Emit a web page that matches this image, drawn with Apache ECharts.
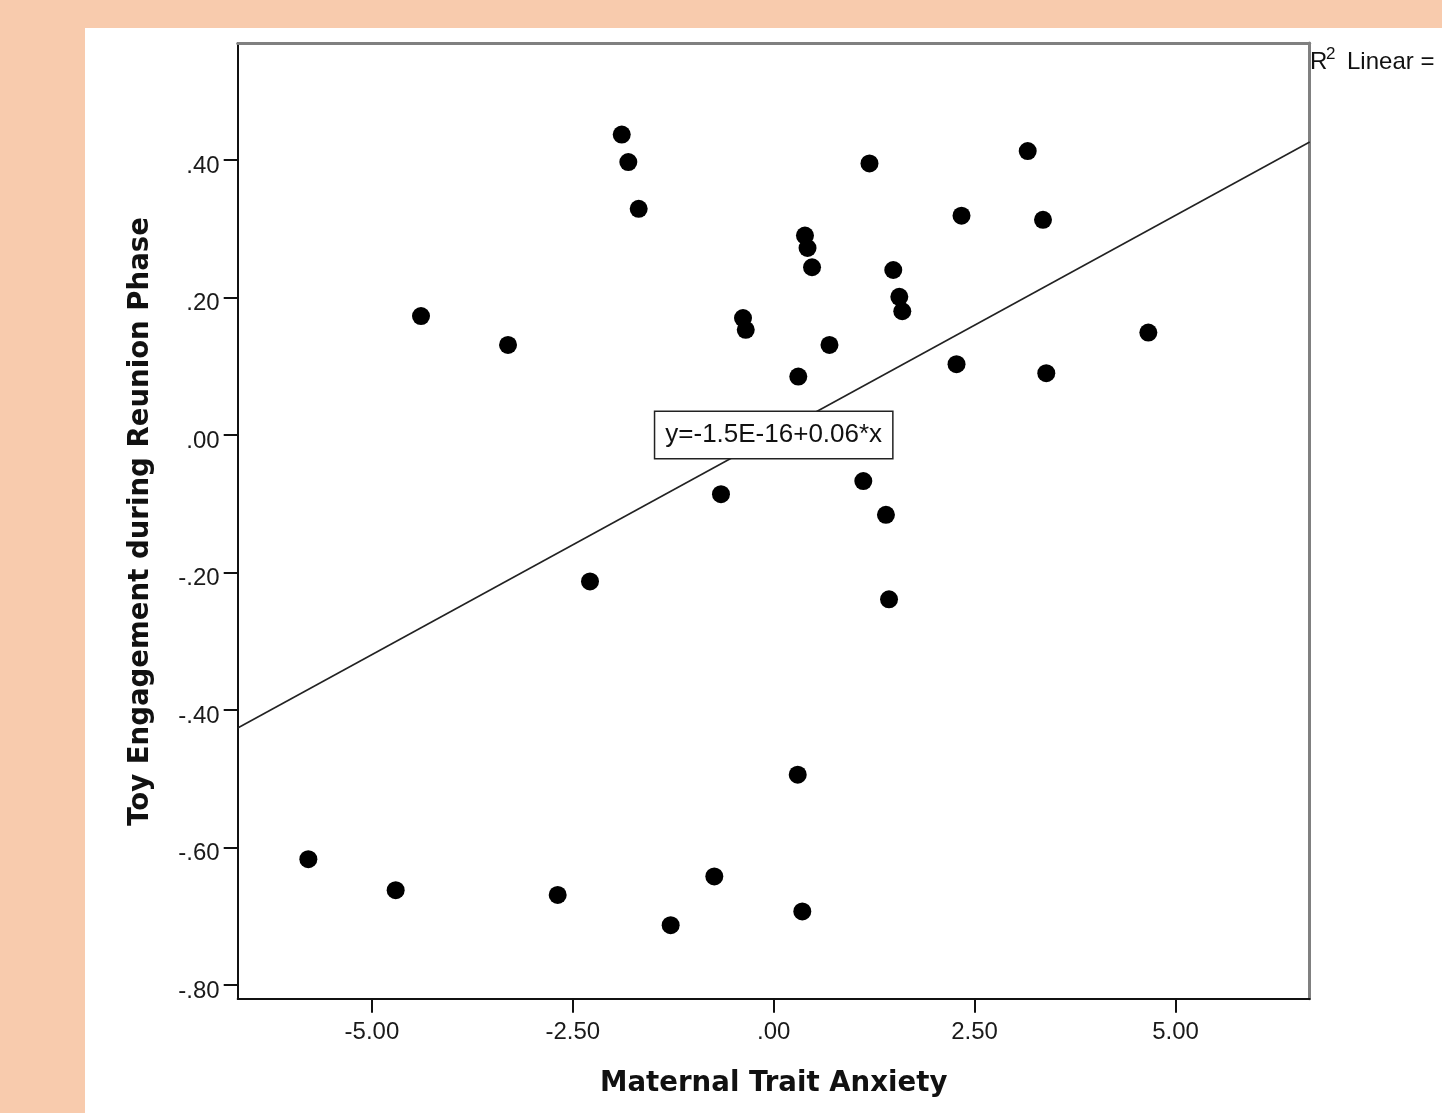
<!DOCTYPE html>
<html>
<head>
<meta charset="utf-8">
<script src="https://cdn.jsdelivr.net/npm/echarts@6/dist/echarts.min.js"></script>
<style>
  html, body { margin: 0; padding: 0; background: #F8CBAD; }
  #panel { position: absolute; left: 85px; top: 28px; width: 1357px; height: 1085px; background: #ffffff; }
  #chart { position: absolute; left: 0; top: 0; width: 1442px; height: 1113px; }
</style>
</head>
<body>
<div id="panel"></div>
<div id="chart"></div>
<script>
// ---- data ----
const anxiety = [-1.891, -1.809, -1.680, -4.389, -3.306, 1.192, 3.161, 2.337, 3.351, 0.389,
                 0.421, 0.477, 1.488, 1.563, 1.600, -0.382, -0.348, 0.694, 0.306, 2.275,
                 3.392, 4.662, -0.656, 1.115, 1.397, 1.435, -2.286, 0.299, -5.791, -4.704,
                 -2.688, -0.739, 0.356, -1.282];
const engagement = [0.437, 0.397, 0.329, 0.173, 0.131, 0.395, 0.413, 0.319, 0.313, 0.290,
                    0.272, 0.244, 0.240, 0.201, 0.180, 0.170, 0.153, 0.131, 0.085, 0.103,
                    0.090, 0.149, -0.086, -0.067, -0.116, -0.239, -0.213, -0.494, -0.617, -0.662,
                    -0.669, -0.642, -0.693, -0.713];
const xTickValues = [-5, -2.5, 0, 2.5, 5];
const yTickValues = [-0.8, -0.6, -0.4, -0.2, 0, 0.2, 0.4];
const xRange = [-6.67, 6.67];
const yRange = [-0.82, 0.57];
const fitIntercept = -1.5e-16;
const fitSlope = 0.0639;
const equationText = 'y=-1.5E-16+0.06*x';
const xTitle = 'Maternal Trait Anxiety';
const yTitle = 'Toy Engagement during Reunion Phase';

// ---- build ----
function fmt(v) {
  let s = Math.abs(v).toFixed(2);
  if (s.charAt(0) === '0') s = s.slice(1);
  return (v < 0 ? '-' : '') + s;
}
const points = anxiety.map((x, i) => [x, engagement[i]]);
const fitLine = xRange.map(x => [x, fitIntercept + fitSlope * x]);

const tickFont = 'Liberation Sans, Arial, sans-serif';
const titleFont = 'DejaVu Sans, Verdana, sans-serif';

const chart = echarts.init(document.getElementById('chart'), null, { renderer: 'canvas' });
chart.setOption({
  backgroundColor: 'transparent',
  animation: false,
  grid: { left: 237.7, top: 43.1, width: 1072, height: 955.7, show: false },
  xAxis: [{
    type: 'value', min: xRange[0], max: xRange[1],
    axisLine: { show: true, onZero: false, lineStyle: { color: '#111', width: 2 } },
    axisTick: { show: true, length: 14, customValues: xTickValues, lineStyle: { color: '#111', width: 2 } },
    axisLabel: { show: true, customValues: xTickValues, formatter: fmt, margin: 22,
                 fontSize: 24, fontFamily: tickFont, color: '#1a1a1a' },
    splitLine: { show: false }
  }, {
    type: 'value', position: 'top', min: xRange[0], max: xRange[1],
    axisLine: { show: true, onZero: false, lineStyle: { color: '#808080', width: 3 } },
    axisTick: { show: false }, axisLabel: { show: false }, splitLine: { show: false }
  }],
  yAxis: [{
    type: 'value', min: yRange[0], max: yRange[1],
    axisLine: { show: true, onZero: false, lineStyle: { color: '#111', width: 2 } },
    axisTick: { show: true, length: 14, customValues: yTickValues, lineStyle: { color: '#111', width: 2 } },
    axisLabel: { show: true, customValues: yTickValues, formatter: fmt, margin: 18,
                 fontSize: 24, fontFamily: tickFont, color: '#1a1a1a',
                 verticalAlign: 'top', lineHeight: 12 },
    splitLine: { show: false }
  }, {
    type: 'value', position: 'right', min: yRange[0], max: yRange[1],
    axisLine: { show: true, onZero: false, lineStyle: { color: '#808080', width: 3 } },
    axisTick: { show: false }, axisLabel: { show: false }, splitLine: { show: false }
  }],
  series: [{
    type: 'line', data: fitLine, showSymbol: false, symbol: 'none', z: 2, silent: true,
    lineStyle: { color: '#222', width: 1.6 },
    markPoint: {
      silent: true, animation: false,
      symbol: 'circle', symbolSize: 0,
      itemStyle: { color: 'transparent', opacity: 1 },
      label: { show: true, position: 'inside', formatter: equationText,
               fontSize: 26, fontFamily: tickFont, color: '#111', lineHeight: 28,
               backgroundColor: '#ffffff', borderColor: '#222', borderWidth: 1.5,
               padding: [9, 10, 9, 10] },
      data: [{ coord: [0, fitIntercept] }]
    }
  }, {
    type: 'scatter', data: points, symbol: 'circle', symbolSize: 18, z: 3,
    itemStyle: { color: '#000', opacity: 1 }
  }],
  graphic: [
    { type: 'text', x: 773.7, y: 1084, silent: true,
      style: { text: xTitle, font: 'bold 27.6px ' + titleFont, fill: '#111', align: 'center', verticalAlign: 'middle' } },
    { type: 'text', x: 141, y: 521.5, rotation: Math.PI / 2, silent: true,
      style: { text: yTitle, font: 'bold 27.6px ' + titleFont, fill: '#111', align: 'center', verticalAlign: 'middle' } },
    { type: 'text', x: 1310, y: 62, silent: true,
      style: { text: 'R', font: '24px ' + tickFont, fill: '#111', align: 'left', verticalAlign: 'middle' } },
    { type: 'text', x: 1326, y: 54, silent: true,
      style: { text: '2', font: '17px ' + tickFont, fill: '#111', align: 'left', verticalAlign: 'middle' } },
    { type: 'text', x: 1347, y: 62, silent: true,
      style: { text: 'Linear =', font: '24px ' + tickFont, fill: '#111', align: 'left', verticalAlign: 'middle' } }
  ]
});
</script>
</body>
</html>
